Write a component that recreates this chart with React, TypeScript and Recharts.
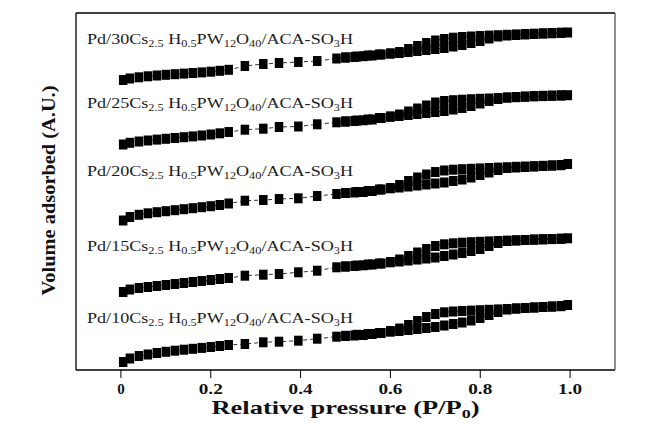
import { Label, Scatter, ScatterChart, XAxis, YAxis } from "recharts";

// relative pressure grids (adsorption up, desorption down)
const pAds = [
  0.005, 0.02, 0.04, 0.06, 0.08, 0.1, 0.12, 0.14, 0.16, 0.18, 0.2, 0.22, 0.24,
  0.276, 0.317, 0.352, 0.395, 0.437, 0.48,
  0.5, 0.525, 0.55, 0.575,
  0.6, 0.62, 0.64, 0.66, 0.68, 0.7, 0.72, 0.74, 0.76, 0.78, 0.8, 0.82, 0.84, 0.86, 0.88, 0.9, 0.92, 0.94, 0.96, 0.98,
  0.995,
];
const pDes = [
  0.98, 0.96, 0.94, 0.92, 0.9, 0.88, 0.86, 0.84, 0.82, 0.8, 0.78, 0.76, 0.74, 0.72, 0.7, 0.68, 0.66, 0.64, 0.62, 0.6,
  0.58, 0.56, 0.54, 0.52, 0.5,
];

// volume adsorbed, arbitrary units (curves already stacked)
const ads30 = [
  290, 291.5, 292.7, 293.7, 294.5, 295.2, 295.8, 296.4, 297, 297.6, 298.3, 299.2, 300.2,
  304, 306, 307, 308, 309, 311.5,
  312.5, 313.5, 314.5, 315.5,
  316.5, 317, 318, 319, 320, 321, 322, 323.5, 325, 327, 329, 331.5, 333.5, 334.5, 335, 335.5, 336, 336.5, 336.8, 337.2,
  337.5,
];
const des30 = [
  337.2, 336.9, 336.6, 336.3, 336, 335.6, 335.2, 334.8, 334.4, 334, 333.5, 333, 332.3, 331, 329.5, 327, 324, 321, 318,
  316.5, 315.5, 314.5, 313.8, 313, 312.5,
];
const ads25 = [
  225.5, 227.2, 228.5, 229.5, 230.4, 231.2, 232, 232.8, 233.6, 234.5, 235.5, 236.7, 238,
  240.3, 241.3, 243, 243.5, 245.7, 247.7,
  248.5, 249.5, 250.5, 252,
  253.3, 254, 255, 256, 257, 258, 259, 260.5, 262, 264, 266.5, 269, 271, 272.5, 273, 273.5, 274, 274.2, 274.4, 274.6,
  274.8,
];
const des25 = [
  274.5, 274.2, 273.9, 273.6, 273.2, 272.8, 272.4, 272, 271.5, 271.2, 270.8, 270.3, 269.8, 269, 267.5, 264.5, 261.5, 258.5,
  255.5, 253.5, 252, 250.5, 249.7, 249, 248.5,
];
const ads20 = [
  149.5, 153, 155.2, 156.7, 157.8, 158.8, 159.8, 160.8, 161.8, 162.8, 163.8, 165, 166.5,
  169.3, 170, 171, 171.7, 174, 176,
  177, 178, 179, 180.5,
  181.7, 182.5, 183.5, 184.5, 185.5, 186.5, 187.5, 189, 190.5, 192.5, 195, 197.5, 200, 202, 202.5, 203, 203.5, 204, 204.5, 205,
  206,
];
const des20 = [
  204.8, 204.5, 204.2, 203.8, 203.5, 203.2, 202.8, 202.4, 202, 201.6, 201.2, 200.8, 200.3, 199.5, 198, 195.5, 192.5, 189,
  185, 182, 180.5, 179, 178, 177.5, 177,
];
const ads15 = [
  78, 80.5, 82, 83, 84, 85, 86, 87, 88, 89, 90, 91, 92,
  94.3, 95.3, 96, 97.7, 99.3, 102.7,
  103.5, 104.5, 105.5, 106.5,
  107.7, 108.5, 109.5, 110.5, 111.5, 112.5, 114, 115.5, 117, 119, 121, 124, 127, 129, 129.5, 130, 130.5, 130.8, 131, 131.3,
  131.7,
];
const des15 = [
  131.2, 130.9, 130.6, 130.3, 130, 129.7, 129.4, 129, 128.6, 128.2, 127.8, 127.3, 126.7, 125.7, 124, 121, 117.5, 114,
  110.5, 108, 106.5, 105.5, 104.7, 104, 103.5,
];
const ads10 = [
  8, 11.5, 14, 15.5, 17, 18.2, 19.3, 20.3, 21.2, 22.1, 23, 24, 25,
  26, 27.7, 28.3, 29.3, 31.3, 33.3,
  34.2, 35.2, 36, 37,
  38.3, 39, 40, 41, 42, 43, 44.5, 46, 47.5, 49.5, 52, 55, 58, 60.5, 61.5, 62, 62.5, 63, 63.5, 64,
  65,
];
const des10 = [
  63.8, 63.4, 63, 62.5, 62, 61.5, 61, 60.6, 60.2, 59.8, 59.4, 59, 58.5, 57.7, 56, 53, 49, 45, 41.5, 39, 37, 36, 35, 34.5, 34,
];

const loadings = ["30", "25", "20", "15", "10"];
const adsSets = [ads30, ads25, ads20, ads15, ads10];
const desSets = [des30, des25, des20, des15, des10];
const xTicks = [0, 0.2, 0.4, 0.6, 0.8, 1.0];

// layout only
const W = 646;
const H = 430;
const LABEL_X = 87;
const LABEL_BASE = [44, 108, 176, 251, 323];
const FONT = '"Liberation Serif", "Times New Roman", serif';

const series = loadings.map((n, i) => ({
  name: n,
  data: [
    ...pAds.map((p, j) => ({ p, v: adsSets[i][j] })),
    ...pDes.map((p, j) => ({ p, v: desSets[i][j] })),
  ],
}));

const renderSquare = (props: any) => {
  const { cx, cy } = props;
  if (cx == null || cy == null) return <g />;
  return <rect x={cx - 4.25} y={cy - 5} width={8.5} height={10} fill="#000" />;
};

function PressureTick({ x, y, payload }: any) {
  const txt = payload.value === 0 ? "0" : Number(payload.value).toFixed(1);
  const stretch = txt.length > 1 ? { textLength: 24, lengthAdjust: "spacingAndGlyphs" } : {};
  return (
    <text
      x={x}
      y={y + 16}
      textAnchor="middle"
      fontFamily={FONT}
      fontWeight="bold"
      fontSize={15}
      fill="#111"
      {...stretch}
    >
      {txt}
    </text>
  );
}

const renderXTitle = (props: any) => {
  const vb = props.viewBox;
  return (
    <text
      x={vb.x + vb.width / 2}
      y={vb.y + 44}
      textAnchor="middle"
      fontFamily={FONT}
      fontWeight="bold"
      fontSize={19}
      fill="#111"
      textLength={268}
      lengthAdjust="spacingAndGlyphs"
    >
      Relative pressure (P/P<tspan fontSize={13} dy={4}>0</tspan>
      <tspan dy={-4}>)</tspan>
    </text>
  );
};

const renderYTitle = (props: any) => {
  const vb = props.viewBox;
  const cx = vb.x + 55;
  const cy = vb.y + vb.height / 2 - 1;
  return (
    <text
      x={cx}
      y={cy}
      transform={`rotate(-90 ${cx} ${cy})`}
      textAnchor="middle"
      fontFamily={FONT}
      fontWeight="bold"
      fontSize={19}
      fill="#111"
      textLength={210}
      lengthAdjust="spacingAndGlyphs"
    >
      Volume adsorbed (A.U.)
    </text>
  );
};

function Formula({ n, y }: { n: string; y: number }) {
  const sub = (s: string) => (
    <tspan fontSize={9.5} dy={3}>
      {s}
    </tspan>
  );
  const up = (s: string) => <tspan dy={-3}>{s}</tspan>;
  return (
    <text
      x={LABEL_X}
      y={y}
      fontFamily={FONT}
      fontSize={14}
      fill="#1c1c1c"
      textLength={266}
      lengthAdjust="spacingAndGlyphs"
    >
      {`Pd/${n}Cs`}
      {sub("2.5")}
      {up(" H")}
      {sub("0.5")}
      {up("PW")}
      {sub("12")}
      {up("O")}
      {sub("40")}
      {up("/ACA-SO")}
      {sub("3")}
      {up("H")}
    </text>
  );
}

export default function App() {
  return (
    <div style={{ position: "absolute", left: 0, top: 0, width: W, height: H, background: "#fff" }}>
      <ScatterChart width={W} height={H} margin={{ top: 0, right: 0, bottom: 0, left: 0 }}>
        <XAxis
          type="number"
          dataKey="p"
          domain={[-0.1, 1.1]}
          ticks={xTicks}
          tick={<PressureTick />}
          tickSize={8}
          tickMargin={0}
          tickLine={{ stroke: "#000" }}
          axisLine={{ stroke: "#000", strokeWidth: 1.3 }}
          height={60}
          allowDataOverflow
        >
          <Label content={renderXTitle} />
        </XAxis>
        <XAxis
          xAxisId="top"
          orientation="top"
          type="number"
          domain={[-0.1, 1.1]}
          tick={false}
          tickLine={false}
          height={13}
          axisLine={{ stroke: "#000", strokeWidth: 1.3 }}
        />
        <YAxis
          type="number"
          dataKey="v"
          domain={[0, 357]}
          tick={false}
          tickLine={false}
          width={76}
          axisLine={{ stroke: "#000", strokeWidth: 1.3 }}
          allowDataOverflow
        >
          <Label content={renderYTitle} />
        </YAxis>
        <YAxis
          yAxisId="right"
          orientation="right"
          type="number"
          domain={[0, 357]}
          tick={false}
          tickLine={false}
          width={31}
          axisLine={{ stroke: "#555", strokeWidth: 1.3 }}
        />
        {series.map((s) => (
          <Scatter
            key={s.name}
            name={s.name}
            data={s.data}
            shape={renderSquare}
            line={{ stroke: "#333", strokeWidth: 1, strokeDasharray: "4 3" }}
            lineType="joint"
            isAnimationActive={false}
          />
        ))}
      </ScatterChart>
      <svg
        width={W}
        height={H}
        style={{ position: "absolute", left: 0, top: 0, pointerEvents: "none" }}
      >
        {loadings.map((n, i) => (
          <Formula key={n} n={n} y={LABEL_BASE[i]} />
        ))}
      </svg>
    </div>
  );
}
